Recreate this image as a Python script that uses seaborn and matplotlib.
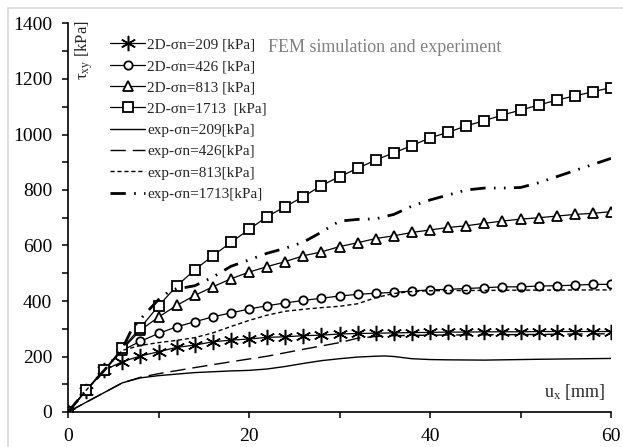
import matplotlib
matplotlib.use("Agg")
import matplotlib.pyplot as plt
import seaborn as sns
from matplotlib.patches import Rectangle

# FEM results, every 2 mm
ux_fem = list(range(0, 61, 2))
fem_209 = [0, 76, 151, 181, 202, 217, 233, 241, 253, 259, 263, 269, 271, 275, 277, 281,
           283, 284, 285, 286, 287, 288, 288, 289, 289, 289, 290, 290, 290, 290, 290]
fem_426 = [0, 79, 151, 222, 255, 283, 307, 325, 343, 357, 371, 383, 393, 402, 410, 418,
           424, 428, 431, 436, 440, 442, 445, 448, 451, 451, 454, 455, 457, 460, 460]
fem_813 = [0, 79, 151, 225, 295, 342, 384, 420, 451, 480, 504, 524, 542, 563, 577, 596,
           610, 625, 635, 647, 656, 665, 671, 680, 688, 695, 700, 706, 712, 716, 722]
fem_1713 = [0, 79, 151, 230, 304, 382, 454, 512, 563, 611, 658, 704, 740, 776, 816, 848,
            878, 908, 934, 960, 988, 1008, 1031, 1050, 1070, 1088, 1106, 1124, 1139, 1154, 1169]

# experiment curves
ux_e209 = [0, 2, 4, 6, 8, 10, 14, 18, 20, 22, 24, 26, 28, 30, 32, 34, 35, 36, 38, 40, 42, 46, 52, 60]
exp_209 = [0, 35, 70, 105, 123, 131, 142, 148, 150, 155, 164, 175, 185, 192, 198, 201, 202, 200,
           192, 189, 188, 187, 190, 193]
ux_e426 = [0, 2, 4, 6, 8, 10, 14, 18, 22, 26, 28, 30, 31, 32, 34, 36, 40, 50, 60]
exp_426 = [0, 35, 70, 105, 125, 138, 160, 181, 201, 226, 238, 250, 258, 266, 272, 275, 277, 279, 282]
ux_e813 = [0, 2, 4, 6, 8, 10, 12, 14, 16, 18, 20, 22, 24, 26, 28, 30, 32, 34, 36, 38, 40, 45, 50, 60]
exp_813 = [0, 78, 150, 222, 240, 250, 258, 268, 285, 308, 330, 349, 363, 370, 376, 381, 390,
           412, 427, 434, 437, 438, 439, 440]
ux_e1713 = [0, 2, 4, 6, 7, 8, 9, 10, 11, 12, 13, 14, 16, 18, 20, 22, 24, 26, 28, 30, 32, 34,
            36, 38, 40, 42, 44, 46, 48, 50, 52, 54, 56, 58, 60]
exp_1713 = [0, 78, 150, 228, 295, 335, 370, 405, 430, 445, 449, 455, 486, 525, 548, 572, 590,
            612, 648, 688, 694, 696, 712, 742, 764, 782, 800, 807, 807, 809, 826, 848, 870, 892, 914]

sns.set_style("ticks")
plt.rcParams['font.family'] = ['Liberation Serif', 'DejaVu Serif']
plt.rcParams['mathtext.fontset'] = 'custom'
plt.rcParams['mathtext.rm'] = 'Liberation Serif'
plt.rcParams['mathtext.it'] = 'Liberation Serif:italic'
plt.rcParams['lines.scale_dashes'] = False

fig = plt.figure(figsize=(6.23, 4.47), dpi=100)
ax = fig.add_axes([68 / 623, 1 - 412 / 447, 543 / 623, 388.5 / 447])

mk = dict(color='black', linewidth=0.9, markerfacecolor='white', markeredgecolor='black')
sns.lineplot(x=ux_fem, y=fem_209, ax=ax, marker=(6, 2, 0), markersize=11, markeredgewidth=1.1,
             label='2D-σn=209 [kPa]', **mk)
sns.lineplot(x=ux_fem, y=fem_426, ax=ax, marker='o', markersize=6, markeredgewidth=1.3,
             label='2D-σn=426 [kPa]', **mk)
sns.lineplot(x=ux_fem, y=fem_813, ax=ax, marker='^', markersize=6.5, markeredgewidth=1.3,
             label='2D-σn=813 [kPa]', **mk)
sns.lineplot(x=ux_fem, y=fem_1713, ax=ax, marker='s', markersize=6.5, markeredgewidth=1.3,
             label='2D-σn=1713  [kPa]', **mk)

sns.lineplot(x=ux_e209, y=exp_209, ax=ax, color='black', linewidth=1.0, label='exp-σn=209[kPa]')
sns.lineplot(x=ux_e426, y=exp_426, ax=ax, color='black', linewidth=1.0,
             linestyle=(0, (11, 5)), label='exp-σn=426[kPa]')
sns.lineplot(x=ux_e813, y=exp_813, ax=ax, color='black', linewidth=1.0,
             linestyle=(0, (3, 2)), label='exp-σn=813[kPa]')
sns.lineplot(x=ux_e1713, y=exp_1713, ax=ax, color='black', linewidth=2.0,
             linestyle=(0, (11, 6, 1.2, 6, 1.2, 6)), label='exp-σn=1713[kPa]')

ax.set_xlim(0, 60)
ax.set_ylim(0, 1400)
ax.set_xticks([0, 20, 40, 60])
ax.set_xticks([10, 30, 50], minor=True)
ax.set_yticks(range(0, 1401, 200))
ax.set_yticks(range(100, 1400, 200), minor=True)
ax.set_xlabel('')
ax.set_ylabel('')
for s in ['top', 'right']:
    ax.spines[s].set_visible(False)
for s in ['left', 'bottom']:
    ax.spines[s].set_linewidth(1.2)
    ax.spines[s].set_color('black')
ax.tick_params(which='both', direction='out', length=4.5, width=1.1, colors='black',
               labelsize=14, pad=7)
ax.patch.set_alpha(0)

leg = ax.legend(loc='upper left', bbox_to_anchor=(110 / 623, 1 - 38 / 447),
                bbox_transform=fig.transFigure, frameon=False, fontsize=11,
                handlelength=2.3, handletextpad=0.15, labelspacing=0.5,
                borderpad=0, borderaxespad=0)

fig.text(268 / 623, 1 - 47 / 447, 'FEM simulation and experiment', color='#808080',
         fontsize=13, ha='left', va='center')
fig.text(84 / 623, 1 - 20 / 447, 'τ$_{\\mathrm{xy}}$ [kPa]', rotation=90, fontsize=12,
         ha='center', va='top')
fig.text(605 / 623, 1 - 397 / 447, 'u$_{\\mathrm{x}}$ [mm]', fontsize=13,
         ha='right', va='baseline')

fig.patches.append(Rectangle((8 / 623, -0.1), 1.2, 1 - 8 / 447 + 0.1, transform=fig.transFigure,
                             fill=False, edgecolor='#d9d9d9', linewidth=1.2, zorder=-1))

fig.savefig('out.png', dpi=100)
